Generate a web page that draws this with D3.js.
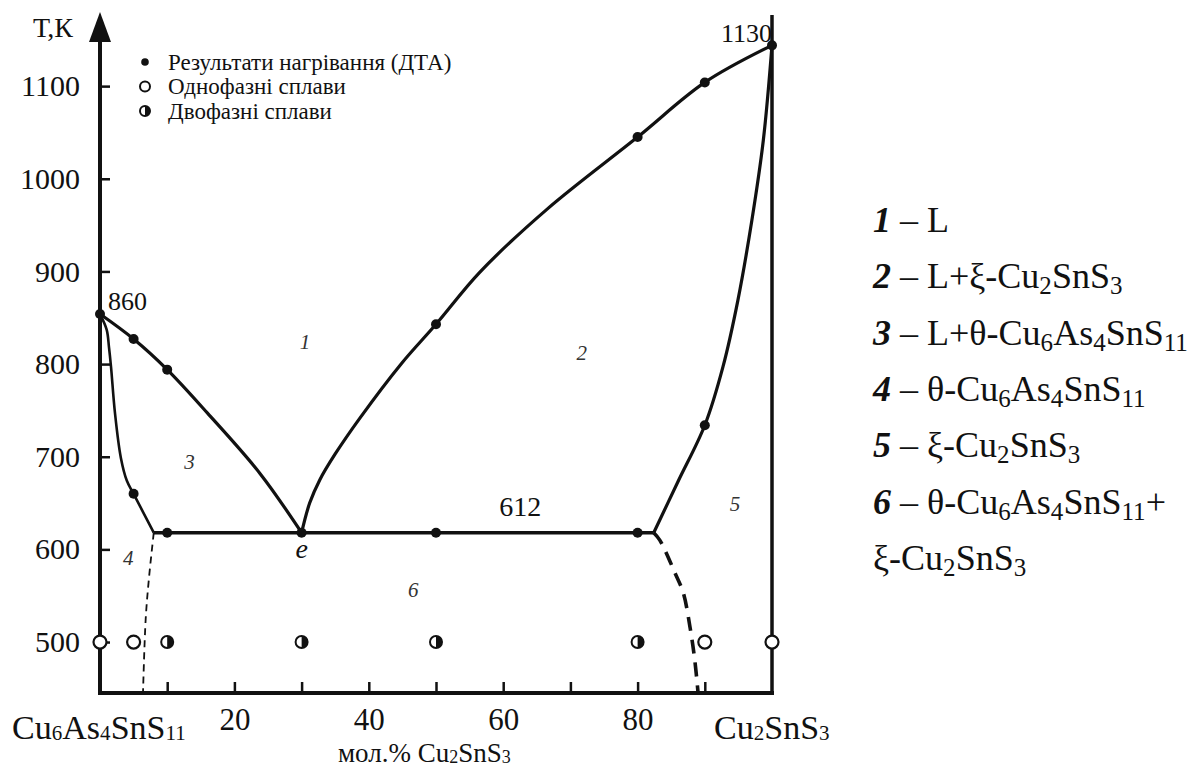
<!DOCTYPE html>
<html>
<head>
<meta charset="utf-8">
<script src="https://cdn.jsdelivr.net/npm/d3@7"></script>
<style>
  html, body { margin: 0; padding: 0; background: #fff; }
  svg { display: block; }
  text { font-family: "Liberation Serif", "Times New Roman", Times, "DejaVu Serif", serif; fill: #111; }
</style>
</head>
<body>
<svg id="chart" width="1197" height="769"></svg>
<script>
// ---------- data ----------
const xTickValues = [10, 20, 30, 40, 50, 60, 70, 80, 90];
const xTickLabels = [20, 40, 60, 80];
const yTickValues = [500, 600, 700, 800, 900, 1000, 1100];

// boundary lines [mol.% Cu2SnS3, T K]
const liquidusTheta = [[0, 854], [5, 827], [10, 794], [16, 747], [23.8, 682], [30, 618]];
const solidusTheta  = [[0, 854], [1.0, 837], [1.34, 818], [1.64, 797], [2.23, 747], [3.1, 699], [4.0, 674], [5, 660], [8, 618]];
const solvusTheta   = [[8, 618], [7.3, 570], [6.8, 525], [6.4, 445]];
const liquidusXi    = [[30, 618], [31.2, 650], [32.7, 675], [35, 703], [38.7, 742], [44.9, 801], [50, 843], [56.5, 899], [66.5, 967], [80, 1045], [90, 1104], [100, 1144]];
const solidusXi     = [[82.4, 618], [86, 673], [90, 734], [92.7, 797], [94.9, 868], [97, 955], [98.7, 1041], [100, 1144]];
const solvusXi      = [[82.4, 618], [83.3, 610], [85.6, 574], [86.8, 553], [87.8, 516], [88.5, 481], [89, 445]];
const eutectic      = [[8, 618], [82.4, 618]];

// DTA heating results
const dtaPoints = [[0, 854], [5, 827], [10, 794], [5, 660], [10, 618], [30, 618], [50, 618], [80, 618],
                   [50, 843], [80, 1045], [90, 1104], [90, 734], [100, 1144]];
// annealed samples at 500 K
const singlePhaseX = [0, 5, 90, 100];
const twoPhaseX = [10, 30, 50, 80];
const sampleT = 500;

const specialLabels = [
  { text: "860",  x: 1.2,  T: 858, size: 26 },
  { text: "1130", x: 92.4, T: 1148, size: 26 },
  { text: "612",  x: 59.4, T: 636, size: 28 }
];
const regionLabels = [
  { text: "1", x: 30.5, T: 824 }, { text: "2", x: 71.7, T: 812 }, { text: "3", x: 13.3, T: 694 },
  { text: "4", x: 4.2, T: 591 },  { text: "5", x: 94.5, T: 649 }, { text: "6", x: 46.6, T: 556 }
];
const legendLeft = [
  { type: "dta", label: "Результати нагрівання (ДТА)" },
  { type: "single", label: "Однофазні сплави" },
  { type: "two", label: "Двофазні сплави" }
];
const legendRight = [
  { num: "1", text: "L" },
  { num: "2", text: "L+ξ-Cu_2SnS_3" },
  { num: "3", text: "L+θ-Cu_6As_4SnS_11" },
  { num: "4", text: "θ-Cu_6As_4SnS_11" },
  { num: "5", text: "ξ-Cu_2SnS_3" },
  { num: "6", text: "θ-Cu_6As_4SnS_11+" },
  { num: "",  text: "ξ-Cu_2SnS_3" }
];
const leftCompound = "Cu_6As_4SnS_11";
const rightCompound = "Cu_2SnS_3";
const xTitle = "мол.% Cu_2SnS_3";
const yTitle = "Т,К";

// ---------- drawing ----------
const svg = d3.select("#chart");
const x = d3.scaleLinear().domain([0, 100]).range([100, 772]);
const y = d3.scaleLinear().domain([445, 1180]).range([693, 12]);
const ink = "#111";

// helper: text with subscripts marked by _digits
function richText(sel, str, subSize, subDy) {
  const parts = str.split(/(_\d+)/).filter(s => s.length);
  parts.forEach(p => {
    if (p[0] === "_") {
      sel.append("tspan").attr("font-size", subSize).attr("dy", subDy).text(p.slice(1));
      sel.append("tspan").attr("dy", -subDy).attr("font-size", 1).text("\u200A");
    } else {
      sel.append("tspan").text(p);
    }
  });
}

// axes
const yAxis = d3.axisLeft(y).tickValues(yTickValues).tickSize(-10).tickPadding(20)
  .tickSizeOuter(0).tickFormat(d3.format("d"));
const gy = svg.append("g").attr("transform", `translate(${x(0)},0)`).call(yAxis);
gy.attr("font-family", null);
gy.select(".domain").remove();
gy.selectAll(".tick line").attr("stroke", ink).attr("stroke-width", 2.5);
gy.selectAll(".tick text").attr("font-size", 30).attr("fill", ink);

const xAxis = d3.axisBottom(x).tickValues(xTickValues).tickSize(-11).tickPadding(15)
  .tickFormat(d => xTickLabels.includes(d) ? d : "");
const gx = svg.append("g").attr("transform", `translate(0,${y(445)})`).call(xAxis);
gx.attr("font-family", null);
gx.select(".domain").remove();
gx.selectAll(".tick line").attr("stroke", ink).attr("stroke-width", 2.5);
gx.selectAll(".tick text").attr("font-size", 31).attr("fill", ink);

// frame lines
svg.append("line").attr("x1", x(0)).attr("x2", x(100)).attr("y1", y(445)).attr("y2", y(445))
  .attr("stroke", ink).attr("stroke-width", 4).attr("stroke-linecap", "square");
svg.append("line").attr("x1", x(0)).attr("x2", x(0)).attr("y1", y(445)).attr("y2", 36)
  .attr("stroke", ink).attr("stroke-width", 4);
svg.append("line").attr("x1", x(100)).attr("x2", x(100)).attr("y1", y(445)).attr("y2", 15)
  .attr("stroke", ink).attr("stroke-width", 3.5);
svg.append("path").attr("d", `M${x(0)},12 L${x(0) - 11},42 L${x(0) + 11},42 Z`).attr("fill", ink);
svg.append("text").attr("x", 33).attr("y", 37).attr("font-size", 28).text(yTitle);

// boundary lines
const line = d3.line().x(d => x(d[0])).y(d => y(d[1])).curve(d3.curveCatmullRom.alpha(0.5));
const curves = [
  { data: liquidusTheta, w: 3.2 },
  { data: solidusTheta, w: 2.6 },
  { data: liquidusXi, w: 3.2 },
  { data: solidusXi, w: 3.2 },
  { data: eutectic, w: 3.4 },
  { data: solvusTheta, w: 1.8, dash: "7,5" },
  { data: solvusXi, w: 3.6, dash: "14,9" }
];
curves.forEach(c => {
  svg.append("path").attr("d", line(c.data)).attr("fill", "none").attr("stroke", ink)
    .attr("stroke-width", c.w).attr("stroke-dasharray", c.dash || null);
});

// DTA points
svg.selectAll(".dta").data(dtaPoints).join("circle").attr("class", "dta")
  .attr("cx", d => x(d[0])).attr("cy", d => y(d[1])).attr("r", 5).attr("fill", ink);

// half-filled marker
function halfMarker(g, cx, cy, r) {
  g.append("circle").attr("cx", cx).attr("cy", cy).attr("r", r).attr("fill", "#fff")
    .attr("stroke", ink).attr("stroke-width", 2);
  g.append("path").attr("d", `M${cx},${cy - r} A${r},${r} 0 0 1 ${cx},${cy + r} Z`).attr("fill", ink);
}
singlePhaseX.forEach(v => {
  svg.append("circle").attr("cx", x(v)).attr("cy", y(sampleT)).attr("r", 6.5).attr("fill", "#fff")
    .attr("stroke", ink).attr("stroke-width", 2.2);
});
twoPhaseX.forEach(v => halfMarker(svg, x(v), y(sampleT), 6));

// special labels
specialLabels.forEach(l => {
  svg.append("text").attr("x", x(l.x)).attr("y", y(l.T)).attr("font-size", l.size).text(l.text);
});
svg.append("text").attr("x", x(30)).attr("y", 558).attr("text-anchor", "middle")
  .attr("font-size", 28).attr("font-style", "italic").text("e");

regionLabels.forEach(l => {
  svg.append("text").attr("x", x(l.x)).attr("y", y(l.T)).attr("text-anchor", "middle")
    .attr("dominant-baseline", "central").attr("font-size", 21).attr("font-style", "italic")
    .style("fill", "#333").text(l.text);
});

// left legend
legendLeft.forEach((d, i) => {
  const cy = 62 + i * 24.5;
  if (d.type === "dta") svg.append("circle").attr("cx", 145).attr("cy", cy).attr("r", 3.8).attr("fill", ink);
  else if (d.type === "single") svg.append("circle").attr("cx", 145).attr("cy", cy).attr("r", 5)
    .attr("fill", "#fff").attr("stroke", ink).attr("stroke-width", 2);
  else halfMarker(svg, 145, cy, 5);
  svg.append("text").attr("x", 168).attr("y", cy + 7.5).attr("font-size", 23).text(d.label);
});

// compound labels and axis title
richText(svg.append("text").attr("x", 12).attr("y", 739).attr("font-size", 34), leftCompound, 21, 1);
richText(svg.append("text").attr("x", 714).attr("y", 739).attr("font-size", 34), rightCompound, 21, 1);
richText(svg.append("text").attr("x", 338).attr("y", 762).attr("font-size", 27), xTitle, 18, 1);

// right legend
legendRight.forEach((d, i) => {
  const t = svg.append("text").attr("x", 873).attr("y", 232 + i * 56.3).attr("font-size", 36);
  if (d.num) {
    t.append("tspan").attr("font-weight", "bold").attr("font-style", "italic").text(d.num);
    t.append("tspan").text(" – ");
  }
  richText(t, d.text, 25, 6);
});
</script>
</body>
</html>
